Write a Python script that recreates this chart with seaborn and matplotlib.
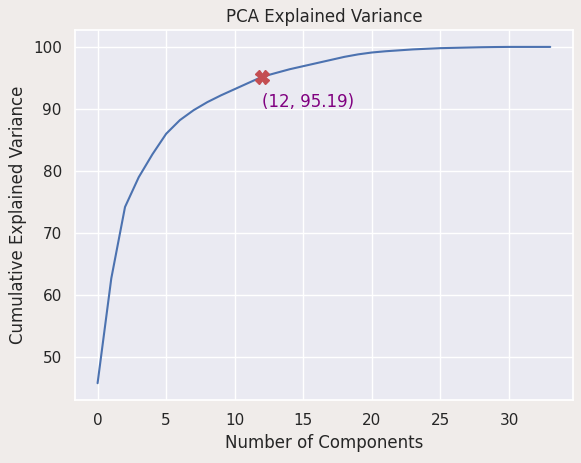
import matplotlib
matplotlib.use("Agg")
import matplotlib.pyplot as plt
import seaborn as sns
import numpy as np

components = list(range(34))
cum_var = [45.8, 62.7, 74.2, 79.0, 82.7, 86.0, 88.2, 89.8, 91.1, 92.2, 93.2, 94.2,
           95.19, 95.8, 96.4, 96.9, 97.4, 97.9, 98.4, 98.8, 99.1, 99.3, 99.45, 99.6,
           99.7, 99.8, 99.85, 99.9, 99.95, 99.98, 100.0, 100.0, 100.0, 100.0]
best_k = 12
best_v = 95.19

sns.set_theme()
fig, ax = plt.subplots(figsize=(5.81, 4.63), dpi=100)
fig.patch.set_facecolor("#f0ecea")
sns.lineplot(x=components, y=cum_var, ax=ax)
ax.plot([best_k], [best_v], marker="X", color="#c44e52", markersize=10, linestyle="none")
ax.text(best_k, best_v - 4.8, f"({best_k}, {best_v})", color="purple", fontsize=12)
ax.set_title("PCA Explained Variance")
ax.set_xlabel("Number of Components")
ax.set_ylabel("Cumulative Explained Variance")
ax.set_yticks([50, 60, 70, 80, 90, 100])
fig.subplots_adjust(left=0.129, right=0.986, top=0.935, bottom=0.136)
fig.savefig("out.png")
